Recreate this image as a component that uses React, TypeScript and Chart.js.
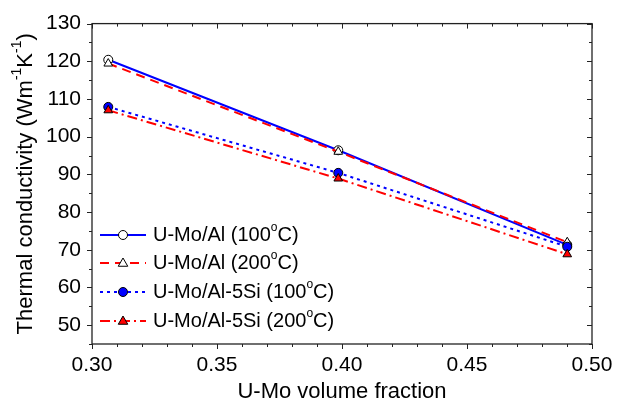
import React, { useEffect, useRef } from "react";
import { Chart, registerables } from "chart.js";

Chart.register(...registerables);

// ---- data ----
const volumeFraction = [0.3065, 0.3985, 0.4901];
const alAt100 = [120.4, 96.4, 71.3];
const alAt200 = [119.4, 96.0, 72.0];
const siAt100 = [107.9, 90.4, 70.8];
const siAt200 = [107.0, 88.9, 68.8];
const seriesLabels = [
  "U-Mo/Al (100^oC)",
  "U-Mo/Al (200^oC)",
  "U-Mo/Al-5Si (100^oC)",
  "U-Mo/Al-5Si (200^oC)",
];
const xTicks = [0.3, 0.35, 0.4, 0.45, 0.5];
const yTicks = [50, 60, 70, 80, 90, 100, 110, 120, 130];
const xTitle = "U-Mo volume fraction";
const yTitle = "Thermal conductivity (Wm^-1K^-1)";

const FONT = '"Liberation Sans", Arial, sans-serif';

type Part = { t: string; sup: boolean };
function parseRich(s: string): Part[] {
  const parts: Part[] = [];
  const re = /\^(-?[0-9a-zA-Z])/g;
  let last = 0;
  let m: RegExpExecArray | null;
  while ((m = re.exec(s))) {
    if (m.index > last) parts.push({ t: s.slice(last, m.index), sup: false });
    parts.push({ t: m[1], sup: true });
    last = m.index + m[0].length;
  }
  if (last < s.length) parts.push({ t: s.slice(last), sup: false });
  return parts;
}

function drawRich(
  ctx: CanvasRenderingContext2D,
  s: string,
  x: number,
  y: number,
  size: number,
  align: "left" | "center"
) {
  const parts = parseRich(s);
  const supSize = Math.round(size * 0.62);
  const widths = parts.map((p) => {
    ctx.font = `${p.sup ? supSize : size}px ${FONT}`;
    return ctx.measureText(p.t).width;
  });
  const total = widths.reduce((a, b) => a + b, 0);
  let cx = align === "center" ? x - total / 2 : x;
  ctx.textAlign = "left";
  ctx.textBaseline = "middle";
  parts.forEach((p, i) => {
    ctx.font = `${p.sup ? supSize : size}px ${FONT}`;
    ctx.fillText(p.t, cx, p.sup ? y - size * 0.38 : y);
    cx += widths[i];
  });
}

const styles = [
  { color: "#0000ff", dash: [] as number[], point: "circle", fill: "#ffffff", radius: 4.5 },
  { color: "#ff0000", dash: [9, 6], point: "triangle", fill: "#ffffff", radius: 5 },
  { color: "#0000ff", dash: [3, 4], point: "circle", fill: "#0000ff", radius: 4.5 },
  { color: "#ff0000", dash: [10, 4, 2, 4], point: "triangle", fill: "#ff0000", radius: 5 },
];

const decor = {
  id: "decor",
  afterDraw(chart: any) {
    const { ctx, chartArea } = chart;
    const { left, right, top, bottom } = chartArea;
    const xs = chart.scales.x;
    const ys = chart.scales.y;
    ctx.save();
    ctx.strokeStyle = "#222";
    ctx.lineWidth = 1.3;
    ctx.setLineDash([]);
    ctx.strokeRect(left, top, right - left, bottom - top);
    ctx.lineWidth = 1;
    ctx.beginPath();
    for (let i = 30; i <= 50; i++) {
      const px = Math.round(xs.getPixelForValue(i / 100)) + 0.5;
      const len = i % 5 === 0 ? 5 : 3;
      ctx.moveTo(px, bottom);
      ctx.lineTo(px, bottom + len);
      ctx.moveTo(px, top);
      ctx.lineTo(px, top + len);
    }
    for (let v = 45; v <= 130; v += 5) {
      const py = Math.round(ys.getPixelForValue(v)) + 0.5;
      const len = v % 10 === 0 ? 5 : 3;
      ctx.moveTo(left - len, py);
      ctx.lineTo(left, py);
      ctx.moveTo(right, py);
      ctx.lineTo(right - len, py);
    }
    ctx.stroke();

    // titles
    ctx.fillStyle = "#000";
    drawRich(ctx, xTitle, (left + right) / 2, 392, 22, "center");
    ctx.save();
    ctx.translate(26, (top + bottom) / 2);
    ctx.rotate(-Math.PI / 2);
    drawRich(ctx, yTitle, 0, 0, 22, "center");
    ctx.restore();

    // legend
    const rows = [235, 263, 292, 321];
    seriesLabels.forEach((label, i) => {
      const st = styles[i];
      const y = rows[i];
      ctx.strokeStyle = st.color;
      ctx.lineWidth = 2;
      ctx.setLineDash(st.dash);
      ctx.beginPath();
      ctx.moveTo(100, y);
      ctx.lineTo(146, y);
      ctx.stroke();
      ctx.setLineDash([]);
      ctx.lineWidth = 1;
      ctx.strokeStyle = "#000";
      ctx.fillStyle = st.fill;
      ctx.beginPath();
      if (st.point === "circle") {
        ctx.arc(123, y, st.radius, 0, Math.PI * 2);
      } else {
        const r = st.radius;
        ctx.moveTo(123, y - r);
        ctx.lineTo(123 + r * 0.95, y + r * 0.65);
        ctx.lineTo(123 - r * 0.95, y + r * 0.65);
        ctx.closePath();
      }
      ctx.fill();
      ctx.stroke();
      ctx.fillStyle = "#000";
      drawRich(ctx, label, 153, y, 20, "left");
    });
    ctx.restore();
  },
};

export default function App() {
  const ref = useRef<HTMLCanvasElement | null>(null);
  useEffect(() => {
    document.body.style.margin = "0";
    if (!ref.current) return;
    const seriesValues = [alAt100, alAt200, siAt100, siAt200];
    const chart = new Chart(ref.current, {
      type: "line",
      data: {
        datasets: seriesValues.map((vals, i) => ({
          label: seriesLabels[i],
          data: vals.map((v, j) => ({ x: volumeFraction[j], y: v })),
          order: -i,
          borderColor: styles[i].color,
          borderWidth: 2,
          borderDash: styles[i].dash,
          pointStyle: styles[i].point as any,
          pointRadius: styles[i].radius,
          pointBackgroundColor: styles[i].fill,
          pointBorderColor: "#000",
          pointBorderWidth: 1,
          tension: 0,
          fill: false,
        })),
      },
      options: {
        animation: false,
        responsive: false,
        layout: { padding: { left: 0, top: 15, right: 30, bottom: 0 } },
        plugins: { legend: { display: false }, tooltip: { enabled: false } },
        scales: {
          x: {
            type: "linear",
            min: 0.3,
            max: 0.5,
            afterBuildTicks: (s: any) => {
              s.ticks = xTicks.map((v) => ({ value: v }));
            },
            afterFit: (s: any) => {
              s.height = 64;
            },
            grid: { display: false, drawTicks: false },
            border: { display: false },
            ticks: {
              padding: 9,
              color: "#000",
              font: { family: FONT, size: 21 },
              maxRotation: 0,
              callback: (v: any) => Number(v).toFixed(2),
            },
          },
          y: {
            type: "linear",
            min: 45,
            max: 130,
            afterBuildTicks: (s: any) => {
              s.ticks = yTicks.map((v) => ({ value: v }));
            },
            afterFit: (s: any) => {
              s.width = 92;
            },
            grid: { display: false, drawTicks: false },
            border: { display: false },
            ticks: {
              padding: 11,
              color: "#000",
              font: { family: FONT, size: 21 },
              callback: (v: any) => String(v),
            },
          },
        },
      },
      plugins: [decor],
    });
    return () => chart.destroy();
  }, []);
  return <canvas ref={ref} width={622} height={408} style={{ display: "block" }} />;
}
